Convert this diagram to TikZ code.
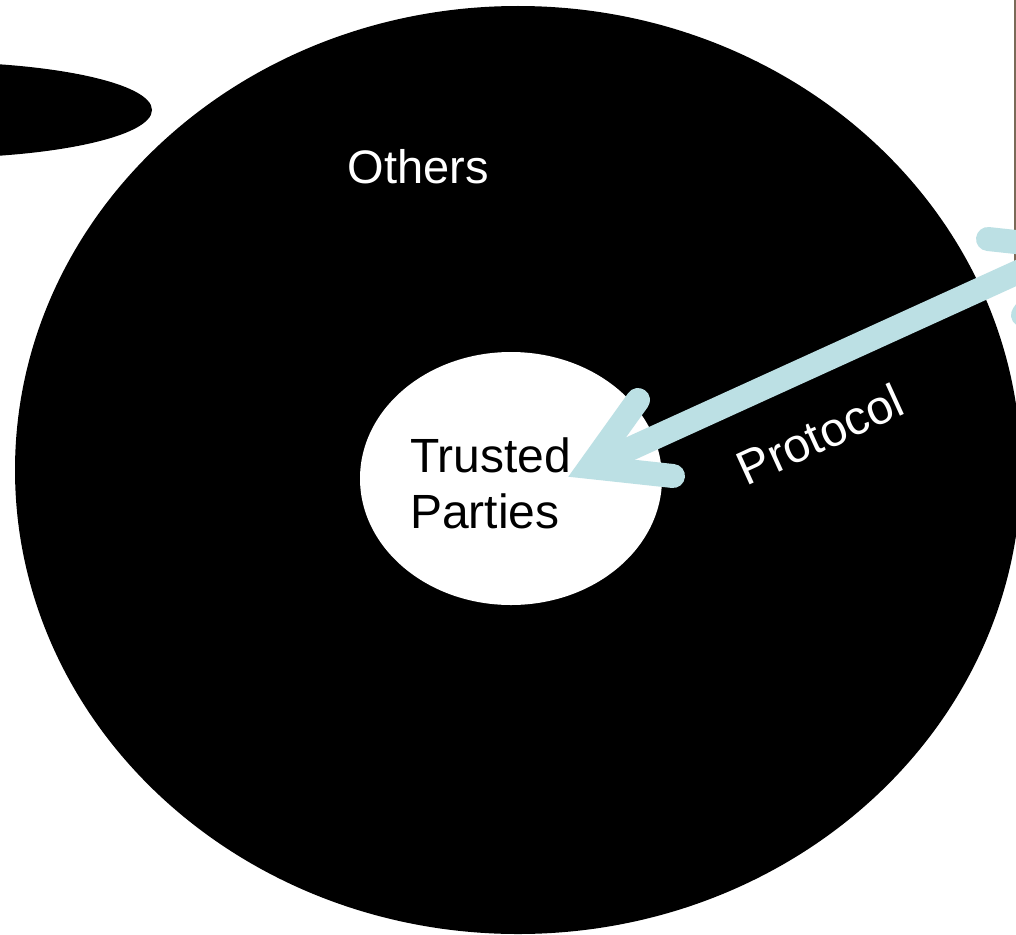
\documentclass[tikz,border=0pt]{standalone}
\usepackage{fontspec}
\setmainfont{Liberation Sans}
\usetikzlibrary{calc,shapes.geometric}
\definecolor{arrowblue}{HTML}{BCE0E4}
\definecolor{edgeline}{HTML}{7A6A58}
\tikzset{
  blob/.style={fill=black,draw=none},
  hole/.style={fill=white,draw=none},
  protoline/.style={draw=arrowblue,line width=24pt},
  barb/.style={draw=arrowblue,line width=24pt,line cap=round,line join=miter},
  lbl/.style={font=\fontsize{47}{52}\selectfont,inner sep=0pt},
  biglbl/.style={font=\fontsize{48}{52}\selectfont,inner sep=0pt}
}
\begin{document}
\begin{tikzpicture}[x=1pt,y=-1pt]
\useasboundingbox (0,0) rectangle (1016,934);
\clip (0,0) rectangle (1016,934);
\fill[white] (0,0) rectangle (1016,934);
% shapes
\path[blob] (-68,110) ellipse [x radius=220, y radius=48];
\node[blob,ellipse,minimum width=1006pt,minimum height=928pt,inner sep=0pt] (others) at (518,470) {};
\path[hole] (511,478.5) ellipse [x radius=151, y radius=126.5];
\node[lbl,text=white,anchor=base] (otherslbl) at (418,183) {Others};
\node[biglbl,anchor=base west] (trusted) at (410,472) {Trusted};
\node[biglbl,anchor=base west] (parties) at (410,528) {Parties};
% edge line
\coordinate (edgetop) at (1015,0);
\coordinate (edgebot) at (1015,270);
\draw[edgeline,line width=1.2pt] (edgetop) -- (edgebot);
% protocol arrow
\coordinate (headL) at (590,467);
\coordinate (headR) at (1071,248);
\draw[protoline] (headL) -- (headR);
\draw[barb] ($(headL)+(48,-67)$) -- (headL) -- ($(headL)+(83,9)$);
\draw[barb] ($(headR)+(-48,67)$) -- (headR) -- ($(headR)+(-83,-9)$);
\node[biglbl,text=white,anchor=base,rotate=24.5] (protocol) at (827,450) {Protocol};
\end{tikzpicture}
\end{document}
